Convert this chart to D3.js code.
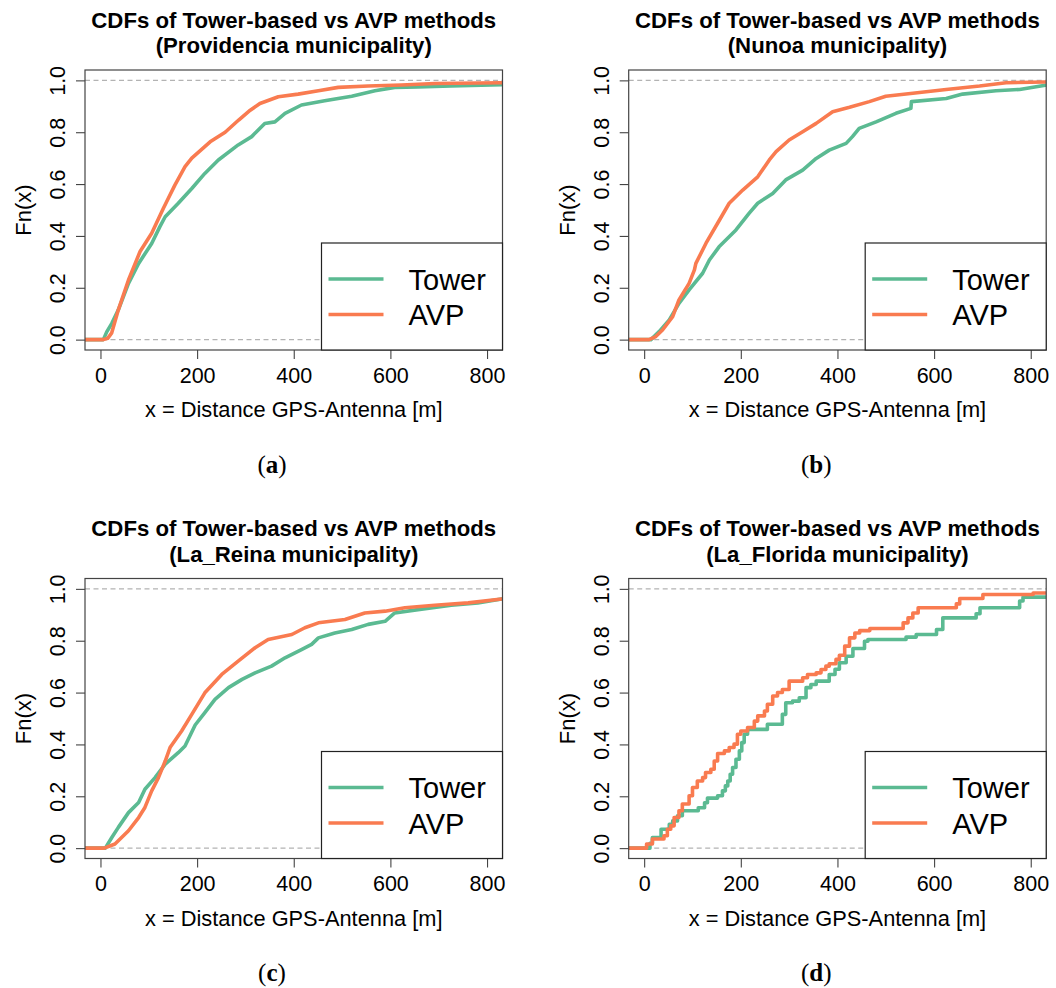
<!DOCTYPE html>
<html>
<head>
<meta charset="utf-8">
<script src="https://cdn.jsdelivr.net/npm/d3@7"></script>
<style>
  html, body { margin: 0; padding: 0; background: #fff; }
  svg { display: block; }
</style>
</head>
<body>
<svg id="chart" width="1056" height="988"></svg>
<script>
// ---------------- data ----------------
const xTicks = [0, 200, 400, 600, 800];
const yTicks = [0, 0.2, 0.4, 0.6, 0.8, 1.0];
const seriesNames = ["Tower", "AVP"];
const titleLine1 = "CDFs of Tower-based vs AVP methods";
const municipalities = ["Providencia", "Nunoa", "La_Reina", "La_Florida"];
const subLabels = ["a", "b", "c", "d"];

const providenciaTower = [[-40,0],[6,0],[13,0.03],[23.5,0.063],[37,0.115],[58,0.217],[79,0.294],[106,0.371],[123,0.436],[134,0.474],[161,0.526],[189,0.583],[216,0.641],[244,0.693],[285,0.751],[313,0.783],[340,0.834],[361,0.840],[382,0.873],[416,0.905],[464,0.921],[520,0.939],[568,0.96],[609,0.973],[657,0.975],[726,0.978],[830,0.983]];
const providenciaAVP = [[-40,0],[6,0],[15,0.005],[23,0.025],[37,0.115],[58,0.23],[82,0.34],[106,0.41],[130,0.506],[154,0.596],[175,0.667],[189,0.70],[227,0.763],[258,0.80],[286,0.847],[310,0.885],[330,0.911],[368,0.937],[409,0.947],[451,0.96],[492,0.973],[554,0.978],[623,0.982],[692,0.988],[830,0.991]];

const nunoaTower = [[-40,0],[14,0],[31,0.031],[52,0.076],[72,0.14],[93,0.192],[121,0.256],[135,0.307],[155,0.358],[190,0.423],[217,0.487],[235,0.526],[266,0.564],[293,0.616],[328,0.654],[356,0.699],[383,0.731],[418,0.757],[431,0.783],[445,0.815],[480,0.840],[521,0.873],[552,0.892],[553,0.918],[625,0.93],[659,0.947],[728,0.96],[777,0.965],[830,0.981]];
const nunoaAVP = [[-40,0],[10,0],[24,0.012],[38,0.037],[59,0.089],[72,0.153],[93,0.217],[104,0.269],[107,0.294],[128,0.372],[152,0.449],[176,0.526],[204,0.577],[235,0.628],[259,0.693],[273,0.725],[300,0.77],[328,0.802],[356,0.834],[390,0.879],[425,0.896],[466,0.918],[500,0.939],[556,0.95],[625,0.965],[694,0.978],[749,0.991],[830,0.994]];

const laReinaTower = [[-40,0],[10,0],[23.5,0.041],[37,0.080],[58,0.137],[79,0.176],[92,0.227],[113,0.272],[134,0.324],[161,0.368],[175,0.394],[196,0.475],[216,0.523],[237,0.574],[265,0.619],[293,0.651],[320,0.676],[354,0.702],[382,0.734],[416,0.766],[437,0.786],[451,0.811],[485,0.830],[520,0.843],[554,0.863],[589,0.875],[609,0.907],[657,0.920],[726,0.937],[781,0.946],[830,0.961]];
const laReinaAVP = [[-40,0],[8,0],[30,0.016],[58,0.067],[79,0.118],[92,0.157],[106,0.221],[120,0.272],[134,0.336],[144,0.388],[168,0.452],[189,0.516],[216,0.599],[251,0.670],[285,0.721],[320,0.773],[347,0.805],[396,0.824],[423,0.850],[451,0.869],[506,0.882],[547,0.907],[589,0.914],[630,0.927],[692,0.937],[761,0.946],[830,0.961]];

const laFloridaTower = [[-40,0],[12,0.019],[17,0.041],[35,0.073],[52,0.092],[59,0.105],[69,0.125],[79,0.144],[112,0.156],[125,0.175],[131,0.193],[152,0.202],[162,0.221],[168,0.24],[173,0.259],[178,0.285],[183,0.311],[190,0.343],[197,0.375],[202,0.407],[207,0.439],[214,0.458],[255,0.478],[286,0.516],[293,0.561],[307,0.567],[321,0.58],[335,0.619],[345,0.631],[356,0.644],[383,0.67],[395,0.69],[404,0.715],[418,0.74],[432,0.77],[456,0.798],[463,0.805],[542,0.814],[563,0.824],[605,0.843],[618,0.888],[687,0.904],[695,0.927],[777,0.953],[784,0.968]];
const laFloridaAVP = [[-40,0],[5,0.016],[17,0.035],[41,0.048],[48,0.073],[55,0.086],[62,0.118],[72,0.144],[79,0.170],[93,0.202],[100,0.234],[110,0.259],[121,0.272],[127,0.292],[138,0.304],[145,0.336],[152,0.365],[166,0.375],[176,0.388],[186,0.401],[193,0.439],[200,0.452],[214,0.465],[228,0.490],[235,0.510],[249,0.529],[255,0.555],[266,0.587],[276,0.600],[286,0.612],[300,0.644],[328,0.657],[338,0.670],[356,0.676],[366,0.689],[376,0.702],[383,0.711],[397,0.728],[404,0.744],[415,0.779],[425,0.811],[436,0.830],[446,0.839],[467,0.847],[536,0.869],[546,0.888],[556,0.907],[567,0.927],[646,0.942],[653,0.963],[701,0.978],[805,0.984]];

const panelData = [
  {tower: providenciaTower, avp: providenciaAVP, step: false},
  {tower: nunoaTower, avp: nunoaAVP, step: false},
  {tower: laReinaTower, avp: laReinaAVP, step: false},
  {tower: laFloridaTower, avp: laFloridaAVP, step: true}
];

// ---------------- layout / style ----------------
const colors = {Tower: "#5bba92", AVP: "#f97b50"};
const xDomain = [-32, 832];
const yDomain = [-0.04, 1.04];
const plotW = 417.5, plotH = 280;
const colX = [85, 628.7];
const rowY = [70, 578.5];
const sans = "'Liberation Sans', Arial, Helvetica, sans-serif";

const svg = d3.select("#chart");
const defs = svg.append("defs");

panelData.forEach((pd, i) => {
  const col = i % 2, row = Math.floor(i / 2);
  const x0 = colX[col], y0 = rowY[row];
  const g = svg.append("g").attr("transform", `translate(${x0},${y0})`);

  const x = d3.scaleLinear().domain(xDomain).range([0, plotW]);
  const y = d3.scaleLinear().domain(yDomain).range([plotH, 0]);

  const clipId = "clip" + i;
  defs.append("clipPath").attr("id", clipId)
    .append("rect").attr("x", 0).attr("y", 0).attr("width", plotW).attr("height", plotH);

  // title
  const title = g.append("text")
    .attr("x", plotW / 2).attr("text-anchor", "middle")
    .style("font-family", sans).style("font-weight", "bold").style("font-size", "22.2px")
    .attr("fill", "#000");
  title.append("tspan").attr("x", plotW / 2).attr("y", -42.3).text(titleLine1);
  title.append("tspan").attr("x", plotW / 2).attr("y", -17).text(`(${municipalities[i]} municipality)`);

  // reference lines at 0 and 1
  g.selectAll("line.ref").data([0, 1]).enter().append("line")
    .attr("class", "ref")
    .attr("x1", 0).attr("x2", plotW)
    .attr("y1", d => y(d)).attr("y2", d => y(d))
    .attr("stroke", "#b3b3b3").attr("stroke-width", 1.2)
    .attr("stroke-dasharray", "5,3.5");

  // curves
  const lineGen = d3.line()
    .x(d => x(d[0])).y(d => y(d[1]))
    .curve(pd.step ? d3.curveStepAfter : d3.curveLinear);
  const curves = g.append("g").attr("clip-path", `url(#${clipId})`);
  [["Tower", pd.tower], ["AVP", pd.avp]].forEach(([name, arr]) => {
    const last = arr[arr.length - 1];
    const full = arr.concat([[xDomain[1] + 20, last[1]]]);
    curves.append("path")
      .datum(full)
      .attr("d", lineGen)
      .attr("fill", "none")
      .attr("stroke", colors[name])
      .attr("stroke-width", 3.6)
      .attr("stroke-linejoin", "round");
  });

  // axes
  const xAxis = g.append("g").attr("transform", `translate(0,${plotH})`)
    .call(d3.axisBottom(x).tickValues(xTicks).tickSize(9).tickPadding(6).tickFormat(d3.format("d")));
  const yAxis = g.append("g")
    .call(d3.axisLeft(y).tickValues(yTicks).tickSize(9).tickPadding(6).tickFormat(d3.format(".1f")));
  [xAxis, yAxis].forEach(ax => {
    ax.select(".domain").remove();
    ax.selectAll(".tick line").attr("stroke", "#444").attr("stroke-width", 1.1);
    ax.selectAll(".tick text").style("font-family", sans).style("font-size", "21.5px").attr("fill", "#000");
  });
  xAxis.selectAll(".tick text").attr("dy", null).attr("y", 32.8);
  yAxis.selectAll(".tick text")
    .attr("x", null).attr("dy", null)
    .attr("text-anchor", "middle")
    .attr("transform", "translate(-20,0) rotate(-90)");

  // box
  g.append("rect").attr("x", 0).attr("y", 0).attr("width", plotW).attr("height", plotH)
    .attr("fill", "none").attr("stroke", "#444").attr("stroke-width", 1.2);

  // axis titles
  g.append("text")
    .attr("x", plotW / 2).attr("y", plotH + 67.3)
    .attr("text-anchor", "middle")
    .style("font-family", sans).style("font-size", "21.8px")
    .text("x = Distance GPS-Antenna [m]");
  g.append("text")
    .attr("transform", `translate(-54,${plotH / 2}) rotate(-90)`)
    .attr("text-anchor", "middle")
    .style("font-family", sans).style("font-size", "22px")
    .text("Fn(x)");

  // legend (bottom right)
  const legW = 181, legH = 107;
  const lg = g.append("g").attr("transform", `translate(${plotW - legW},${plotH - legH})`);
  lg.append("rect").attr("width", legW).attr("height", legH)
    .attr("fill", "#fff").attr("stroke", "#222").attr("stroke-width", 1.2);
  seriesNames.forEach((name, k) => {
    const ly = 36 + k * 35.5;
    lg.append("line").attr("x1", 7).attr("x2", 62).attr("y1", ly).attr("y2", ly)
      .attr("stroke", colors[name]).attr("stroke-width", 3.6);
    lg.append("text").attr("x", 87).attr("y", ly + 10.5)
      .style("font-family", sans).style("font-size", "29px").attr("fill", "#000")
      .text(name);
  });

  // sub caption
  const cap = svg.append("text")
    .attr("x", [272, 816.3][col]).attr("y", [472.5, 980.5][row])
    .attr("text-anchor", "middle")
    .style("font-family", "'Liberation Serif', 'DejaVu Serif', serif")
    .style("font-size", "25px");
  cap.append("tspan").text("(");
  cap.append("tspan").style("font-weight", "bold").text(subLabels[i]);
  cap.append("tspan").text(")");
});
</script>
</body>
</html>
